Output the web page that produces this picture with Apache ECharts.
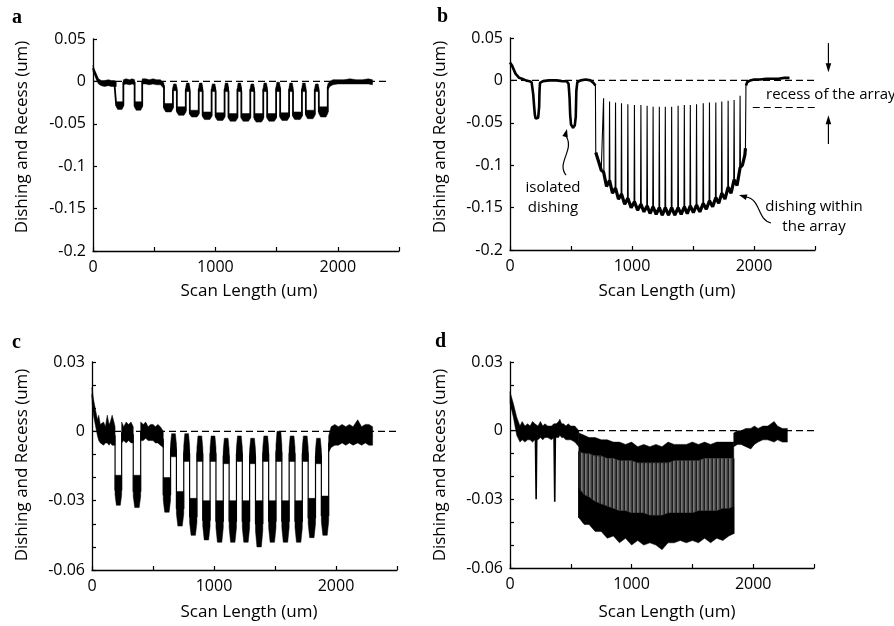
<!DOCTYPE html>
<html><head><meta charset="utf-8">
<script src="https://cdn.jsdelivr.net/npm/echarts@6/dist/echarts.min.js"></script>
<style>html,body{margin:0;padding:0;background:#fff}#c{width:894px;height:626px}</style>
</head><body><div id="c"></div>
<script>
// ---------------- tick labels ----------------
const xLabelVals = [0, 1000, 2000];
const xTickLabels = ['0', '1000', '2000'];
const yLabelValsAB = [0.05, 0, -0.05, -0.1, -0.15, -0.2];
const yTickLabelsAB = ['0.05', '0', '-0.05', '-0.1', '-0.15', '-0.2'];
const yLabelValsCD = [0.03, 0, -0.03, -0.06];
const yTickLabelsCD = ['0.03', '0', '-0.03', '-0.06'];

// ---------------- panel a ----------------
const aLeadX  = [0, 12, 30, 45, 68, 95, 125, 150, 175, 190];
const aLeadHi = [0.019, 0.014, 0.008, 0.003, 0.001, 0.001, 0.002, 0.001, 0.001, 0.000];
const aLeadLo = [0.012, 0.008, 0.001, -0.003, -0.005, -0.006, -0.005, -0.006, -0.006, -0.006];
const aMidX  = [248, 270, 300, 320, 340];
const aMidHi = [0.002, 0.003, 0.002, 0.003, 0.002];
const aMidLo = [-0.004, -0.003, -0.004, -0.003, -0.004];
const aPreX  = [402, 430, 460, 490, 520, 550, 565, 580];
const aPreHi = [0.003, 0.003, 0.002, 0.003, 0.002, 0.002, 0.000, -0.002];
const aPreLo = [-0.003, -0.003, -0.004, -0.003, -0.004, -0.004, -0.006, -0.009];
const aTailX  = [1918, 1935, 1960, 2000, 2050, 2100, 2150, 2200, 2250, 2283];
const aTailHi = [-0.003, 0.000, 0.002, 0.002, 0.002, 0.003, 0.002, 0.002, 0.003, 0.002];
const aTailLo = [-0.010, -0.006, -0.004, -0.003, -0.003, -0.003, -0.003, -0.003, -0.003, -0.004];
const aWellS  = [190, 340, 580, 685, 791, 896, 1002, 1107, 1212, 1318, 1423, 1529, 1634, 1739, 1845];
const aWellE  = [248, 402, 653, 758, 864, 969, 1075, 1180, 1285, 1391, 1496, 1602, 1707, 1812, 1918];
const aWellHi = [-0.024, -0.024, -0.026, -0.030, -0.034, -0.036, -0.037, -0.038, -0.038, -0.038, -0.038, -0.037, -0.036, -0.034, -0.030];
const aWellLo = [-0.033, -0.034, -0.036, -0.040, -0.042, -0.045, -0.046, -0.047, -0.047, -0.048, -0.047, -0.046, -0.045, -0.044, -0.042];
const aDomeHi = [-0.003, -0.002, -0.002, -0.003, -0.002, -0.002, -0.003, -0.002, -0.001, -0.002, -0.002, -0.003];
const aDomeLo = [-0.011, -0.012, -0.012, -0.012, -0.012, -0.012, -0.012, -0.012, -0.012, -0.012, -0.012, -0.012];

// ---------------- panel b ----------------
const bHeadX = [0, 15, 30, 45, 57, 75, 98, 130, 160, 177, 190, 198, 204, 211, 218, 231, 239, 242, 246, 270, 320, 380, 430, 465, 480, 488, 493, 500, 517, 531, 539, 544, 552, 580, 620, 660, 685, 700];
const bHeadY = [0.021, 0.018, 0.013, 0.008, 0.006, 0.003, 0.002, 0.000, -0.001, -0.002, -0.016, -0.031, -0.041, -0.045, -0.046, -0.044, -0.031, -0.012, -0.003, -0.001, 0.000, 0.000, -0.001, -0.001, -0.004, -0.020, -0.040, -0.052, -0.056, -0.053, -0.043, -0.012, -0.002, 0.000, 0.001, 0.000, -0.003, -0.006];
const bPreX = [703, 725, 748];
const bPreY = [-0.085, -0.095, -0.106];
const bSpikeX    = [767, 816, 865, 914, 966, 1020, 1073, 1124, 1173, 1224, 1273, 1325, 1378, 1429, 1478, 1529, 1584, 1635, 1687, 1736, 1788, 1837, 1886];
const bSpikeTop  = [-0.021, -0.025, -0.026, -0.027, -0.028, -0.029, -0.029, -0.030, -0.031, -0.031, -0.031, -0.031, -0.030, -0.029, -0.029, -0.028, -0.027, -0.026, -0.026, -0.025, -0.024, -0.023, -0.018];
const bSpikeBase = [-0.108, -0.118, -0.127, -0.134, -0.139, -0.143, -0.146, -0.148, -0.149, -0.150, -0.150, -0.150, -0.150, -0.149, -0.148, -0.147, -0.145, -0.142, -0.138, -0.133, -0.126, -0.117, -0.103];
const bValleyX = [791, 840, 889, 940, 993, 1046, 1098, 1148, 1198, 1248, 1299, 1351, 1403, 1453, 1503, 1556, 1609, 1661, 1711, 1762, 1812, 1861];
const bValleyY = [-0.125, -0.133, -0.140, -0.146, -0.150, -0.153, -0.155, -0.157, -0.158, -0.159, -0.159, -0.159, -0.158, -0.157, -0.156, -0.155, -0.152, -0.149, -0.145, -0.140, -0.133, -0.124];
const bPostX = [1905, 1925, 1930];
const bPostY = [-0.100, -0.088, -0.080];
const bTailX = [1934, 1945, 1970, 2000, 2050, 2100, 2150, 2200, 2250, 2290];
const bTailY = [-0.006, -0.002, 0.000, 0.001, 0.001, 0.002, 0.002, 0.002, 0.003, 0.003];
const bRecess = -0.032;
const bGuideX = [1990, 2630];
const bArrowX = 2610;
const bArrowTop = [0.044, 0.0095];
const bArrowBot = [-0.075, -0.041];

// ---------------- panel c ----------------
const cLeadX  = [0, 12, 30, 45, 55, 68, 95, 110, 125, 140, 150, 165, 180, 189];
const cLeadHi = [0.019, 0.014, 0.009, 0.005, 0.007, 0.003, 0.004, 0.002, 0.007, 0.003, 0.004, 0.007, 0.004, 0.002];
const cLeadLo = [0.013, 0.007, 0.002, -0.002, -0.004, -0.005, -0.006, -0.005, -0.005, -0.006, -0.005, -0.006, -0.006, -0.006];
const cMidX  = [243, 260, 280, 300, 320, 338];
const cMidHi = [0.004, 0.002, 0.004, 0.003, 0.004, 0.002];
const cMidLo = [-0.005, -0.004, -0.005, -0.004, -0.005, -0.005];
const cPreX  = [399, 420, 440, 460, 480, 500, 520, 540, 560, 584];
const cPreHi = [0.004, 0.003, 0.004, 0.002, 0.003, 0.003, 0.002, 0.003, 0.002, 0.000];
const cPreLo = [-0.004, -0.004, -0.003, -0.004, -0.004, -0.004, -0.005, -0.005, -0.006, -0.007];
const cTailX  = [1940, 1960, 1990, 2020, 2050, 2080, 2110, 2140, 2178, 2210, 2240, 2270, 2300];
const cTailHi = [-0.002, 0.002, 0.003, 0.002, 0.003, 0.002, 0.003, 0.002, 0.005, 0.002, 0.003, 0.003, 0.002];
const cTailLo = [-0.009, -0.007, -0.006, -0.006, -0.005, -0.006, -0.005, -0.006, -0.005, -0.006, -0.005, -0.006, -0.006];
const cWellS  = [189, 338, 584, 692, 800, 908, 1016, 1124, 1232, 1340, 1448, 1556, 1664, 1772, 1880];
const cWellE  = [243, 399, 644, 752, 860, 968, 1076, 1184, 1292, 1400, 1508, 1616, 1724, 1832, 1940];
const cWellHi = [-0.019, -0.019, -0.020, -0.026, -0.029, -0.030, -0.030, -0.030, -0.030, -0.030, -0.030, -0.030, -0.030, -0.029, -0.028];
const cWellLo = [-0.032, -0.033, -0.035, -0.041, -0.045, -0.047, -0.048, -0.048, -0.048, -0.050, -0.048, -0.048, -0.048, -0.046, -0.045];
const cDomeHi = [-0.001, -0.001, -0.002, -0.002, -0.003, -0.002, -0.003, -0.002, 0.000, -0.002, -0.002, -0.003];
const cDomeLo = [-0.011, -0.013, -0.013, -0.013, -0.014, -0.013, -0.014, -0.013, -0.013, -0.013, -0.013, -0.014];

// ---------------- panel d ----------------
const dLeadX  = [0, 27, 55, 82, 100, 123, 145, 165, 185, 205, 230, 250, 270, 287, 310, 342, 360, 380, 400, 410, 425, 440, 460, 478, 500, 533, 566];
const dLeadHi = [0.017, 0.012, 0.006, 0.002, 0.004, 0.002, 0.003, 0.002, 0.004, 0.003, 0.002, 0.004, 0.002, 0.003, 0.002, 0.002, 0.003, 0.003, 0.004, 0.005, 0.003, 0.003, 0.002, 0.003, 0.002, 0.002, 0.000];
const dLeadLo = [0.012, 0.006, -0.002, -0.005, -0.004, -0.005, -0.004, -0.004, -0.005, -0.004, -0.004, -0.003, -0.004, -0.003, -0.003, -0.004, -0.003, -0.003, -0.003, -0.002, -0.003, -0.003, -0.004, -0.004, -0.004, -0.005, -0.007];
const dSpikeX = [215, 368];
const dSpikeY = [-0.030, -0.031];
const dArrX  = [566, 610, 650, 700, 750, 800, 850, 900, 950, 1000, 1050, 1100, 1150, 1200, 1250, 1300, 1350, 1400, 1450, 1500, 1550, 1600, 1650, 1700, 1750, 1800, 1840];
const dTopHi = [-0.001, -0.002, -0.003, -0.003, -0.004, -0.004, -0.005, -0.005, -0.006, -0.005, -0.007, -0.006, -0.007, -0.006, -0.007, -0.005, -0.006, -0.006, -0.006, -0.005, -0.006, -0.005, -0.006, -0.005, -0.005, -0.005, -0.005];
const dTopLo = [-0.009, -0.010, -0.010, -0.011, -0.011, -0.012, -0.012, -0.013, -0.013, -0.013, -0.014, -0.014, -0.014, -0.014, -0.014, -0.014, -0.013, -0.013, -0.013, -0.013, -0.013, -0.012, -0.012, -0.012, -0.012, -0.012, -0.012];
const dBotHi = [-0.025, -0.028, -0.029, -0.031, -0.032, -0.033, -0.034, -0.035, -0.035, -0.036, -0.036, -0.036, -0.037, -0.037, -0.037, -0.036, -0.036, -0.036, -0.036, -0.036, -0.035, -0.035, -0.035, -0.035, -0.034, -0.034, -0.033];
const dBotLo = [-0.038, -0.041, -0.041, -0.044, -0.044, -0.047, -0.046, -0.049, -0.047, -0.050, -0.048, -0.050, -0.049, -0.050, -0.052, -0.049, -0.049, -0.048, -0.049, -0.048, -0.049, -0.047, -0.049, -0.047, -0.048, -0.046, -0.045];
const dTailX  = [1840, 1870, 1900, 1940, 1980, 2010, 2040, 2080, 2120, 2172, 2200, 2240, 2281];
const dTailHi = [-0.001, 0.000, 0.000, 0.001, 0.001, 0.002, 0.001, 0.002, 0.002, 0.004, 0.002, 0.001, 0.001];
const dTailLo = [-0.007, -0.006, -0.006, -0.007, -0.008, -0.006, -0.005, -0.004, -0.004, -0.005, -0.004, -0.005, -0.005];

// ---------------- helpers ----------------
const FONT = "'Open Sans', 'Noto Sans', sans-serif";
const zip = (xs, ys) => xs.map((x, i) => [x, ys[i]]);
function band(xs, hi, lo) { return zip(xs, hi).concat(zip(xs, lo).reverse()); }
function lineS(idx, pts, w, extra) {
  return Object.assign({ type: 'line', xAxisIndex: idx, yAxisIndex: idx, data: pts, showSymbol: false, symbol: 'none',
    lineStyle: { color: '#000', width: w }, silent: true, animation: false, z: 3 }, extra || {});
}
function bandS(idx, polys, fill, z) {
  return { type: 'custom', xAxisIndex: idx, yAxisIndex: idx, data: polys.map(p => p[0]), silent: true, animation: false, z: z || 4,
    renderItem: (params, api) => ({ type: 'polygon', shape: { points: polys[params.dataIndex].map(pt => api.coord(pt)) },
      style: { fill: fill, stroke: typeof fill === 'string' ? fill : null, lineWidth: 0.5 } }) };
}
function wellSeries(idx, plats, wS, wE, wHi, wLo, dHi, dLo, wallW) {
  const polys = [], trace = [];
  for (let i = 0; i <= wS.length; i++) {
    let pl;
    if (i < 3) pl = plats[i];
    else if (i === wS.length) pl = plats[3];
    else {
      const k = i - 3, e0 = wE[i - 1], s1 = wS[i], q = (s1 - e0) * 0.18, sh = dLo[k] + (dHi[k] - dLo[k]) * 0.55;
      pl = { x: [e0, e0, e0 + q, s1 - q, s1, s1], hi: [dLo[k], sh, dHi[k], dHi[k], sh, dLo[k]], lo: [dLo[k], dLo[k], dLo[k], dLo[k], dLo[k], dLo[k]] };
    }
    polys.push(band(pl.x, pl.hi, pl.lo));
    pl.x.forEach((x, j) => trace.push([x, (pl.hi[j] + pl.lo[j]) / 2]));
    if (i < wS.length) {
      const s = wS[i], e = wE[i], q = (e - s) * 0.2, m = (wHi[i] + wLo[i]) / 2, sh = wLo[i] + (wHi[i] - wLo[i]) * 0.35;
      polys.push([[s, wHi[i]], [e, wHi[i]], [e, sh], [e - q, wLo[i]], [s + q, wLo[i]], [s, sh]]);
      trace.push([s, m], [e, m]);
    }
  }
  return [lineS(idx, trace, wallW), bandS(idx, polys, '#000', 4)];
}
function findLabel(vals, labels, v) {
  for (let i = 0; i < vals.length; i++) if (Math.abs(vals[i] - v) < 1e-9) return labels[i];
  return '';
}
const axisLine = { show: true, onZero: false, lineStyle: { color: '#000', width: 1.3 } };
const axisTick = { show: true, inside: true, length: 4, lineStyle: { color: '#000', width: 1.2 } };
function xAx(idx) {
  return { gridIndex: idx, type: 'value', min: 0, max: 2500, interval: 500, axisLine, axisTick, splitLine: { show: false },
    axisLabel: { margin: 8, color: '#000', fontFamily: FONT, fontSize: 16, formatter: v => findLabel(xLabelVals, xTickLabels, v) } };
}
function yAx(idx, top) {
  const ab = top === 'ab';
  return { gridIndex: idx, type: 'value', min: ab ? -0.2 : -0.06, max: ab ? 0.05 : 0.03, interval: ab ? 0.05 : 0.01,
    axisLine, axisTick, splitLine: { show: false },
    axisLabel: { margin: 7, color: '#000', fontFamily: FONT, fontSize: 16,
      formatter: v => ab ? findLabel(yLabelValsAB, yTickLabelsAB, v) : findLabel(yLabelValsCD, yTickLabelsCD, v) } };
}
const dash = (idx, pts, extra) => lineS(idx, pts, 1.1, Object.assign({ lineStyle: { color: '#000', width: 1.1, type: [7, 4] }, z: 2 }, extra || {}));

// striped fill for the dense array of panel d
const stripe = document.createElement('canvas');
stripe.width = 4; stripe.height = 4;
(function () {
  const g = stripe.getContext('2d');
  g.fillStyle = '#5e5e5e'; g.fillRect(0, 0, 4, 4);
  g.fillStyle = '#1e1e1e'; g.fillRect(0, 0, 1, 4);
  g.fillStyle = '#777777'; g.fillRect(1, 0, 1, 4);
  g.fillStyle = '#3c3c3c'; g.fillRect(3, 0, 1, 4);
})();
const stripeFill = { image: stripe, repeat: 'repeat' };

// ---------------- series ----------------
const series = [];
// a
series.push(dash(0, [[0, 0], [2400, 0]]));
series.push(...wellSeries(0, [{ x: aLeadX, hi: aLeadHi, lo: aLeadLo }, { x: aMidX, hi: aMidHi, lo: aMidLo }, { x: aPreX, hi: aPreHi, lo: aPreLo }, { x: aTailX, hi: aTailHi, lo: aTailLo }],
  aWellS, aWellE, aWellHi, aWellLo, aDomeHi, aDomeLo, 1.8));
// b
series.push(dash(1, [[0, 0], [bGuideX[1], 0]], { clip: false }));
series.push(dash(1, [[bGuideX[0], bRecess], [bGuideX[1], bRecess]], { clip: false }));
const bBottom = zip(bPreX, bPreY);
const bThin = zip(bHeadX, bHeadY).concat(zip(bPreX, bPreY));
bSpikeX.forEach((x, k) => {
  bBottom.push([x, bSpikeBase[k]]);
  bThin.push([x - 3, bSpikeBase[k]], [x, bSpikeTop[k]], [x + 3, bSpikeBase[k]]);
  if (k < bValleyX.length) { bBottom.push([bValleyX[k], bValleyY[k]]); bThin.push([bValleyX[k], bValleyY[k]]); }
});
bBottom.push(...zip(bPostX, bPostY));
bThin.push(...zip(bPostX, bPostY), ...zip(bTailX, bTailY));
series.push(lineS(1, bThin, 1.1));
series.push(lineS(1, zip(bHeadX, bHeadY), 2.6));
series.push(lineS(1, bBottom, 3.2));
series.push(lineS(1, zip(bTailX, bTailY), 2.6));
// c
series.push(dash(2, [[0, 0], [2500, 0]]));
series.push(...wellSeries(2, [{ x: cLeadX, hi: cLeadHi, lo: cLeadLo }, { x: cMidX, hi: cMidHi, lo: cMidLo }, { x: cPreX, hi: cPreHi, lo: cPreLo }, { x: cTailX, hi: cTailHi, lo: cTailLo }],
  cWellS, cWellE, cWellHi, cWellLo, cDomeHi, cDomeLo, 1.2));
// d
series.push(dash(3, [[0, 0], [2500, 0]]));
series.push(bandS(3, [band(dLeadX, dLeadHi, dLeadLo), band(dTailX, dTailHi, dTailLo)], '#000', 4));
series.push(bandS(3, [band(dArrX, dTopLo, dBotHi)], stripeFill, 3));
series.push(bandS(3, [band(dArrX, dTopHi, dTopLo), band(dArrX, dBotHi, dBotLo)], '#000', 4));
dSpikeX.forEach((x, k) => series.push(lineS(3, [[x - 6, -0.002], [x, dSpikeY[k]], [x + 5, -0.002]], 1.6)));
series.push(lineS(3, [[dArrX[0], dTopLo[0]], [dArrX[0], dBotLo[0]]], 1.4));
series.push(lineS(3, [[dArrX[dArrX.length - 1], dTopLo[dTopLo.length - 1]], [dArrX[dArrX.length - 1], dBotLo[dBotLo.length - 1]]], 1.4));

// ---------------- static graphics ----------------
const TITLE = '17px ' + FONT;
const ANN = '15px ' + FONT;
const PANEL = 'bold 20px "Liberation Serif", "DejaVu Serif", serif';
function txt(x, y, s, font, align, rot) {
  return { type: 'text', x, y, rotation: rot || 0, silent: true,
    style: { text: s, font, fill: '#000', align: align || 'center', verticalAlign: 'middle', textAlign: align || 'center', textVerticalAlign: 'middle' } };
}
function head(tip, dx, dy, len, hw) {
  const n = Math.hypot(dx, dy); dx /= n; dy /= n;
  const bx = tip[0] - dx * len, by = tip[1] - dy * len;
  return { type: 'polygon', silent: true, shape: { points: [tip, [bx - dy * hw, by + dx * hw], [bx + dy * hw, by - dx * hw]] }, style: { fill: '#000' } };
}
const graphics = [
  txt(12, 18, 'a', PANEL, 'left'), txt(437, 17, 'b', PANEL, 'left'),
  txt(12, 343, 'c', PANEL, 'left'), txt(435, 342, 'd', PANEL, 'left'),
  txt(22, 137, 'Dishing and Recess (um)', TITLE, 'center', Math.PI / 2),
  txt(440, 137, 'Dishing and Recess (um)', TITLE, 'center', Math.PI / 2),
  txt(22, 465, 'Dishing and Recess (um)', TITLE, 'center', Math.PI / 2),
  txt(440, 465, 'Dishing and Recess (um)', TITLE, 'center', Math.PI / 2),
  txt(249, 291, 'Scan Length (um)', TITLE), txt(667, 291, 'Scan Length (um)', TITLE),
  txt(249, 612, 'Scan Length (um)', TITLE), txt(667, 612, 'Scan Length (um)', TITLE),
  txt(553, 188, 'isolated', ANN), txt(553, 208, 'dishing', ANN),
  txt(814, 207, 'dishing within', ANN), txt(814, 227, 'the array', ANN),
  txt(766, 95, 'recess of the array', ANN, 'left'),
  { type: 'bezierCurve', silent: true, shape: { x1: 566, y1: 175, cpx1: 556, cpy1: 163, cpx2: 575, cpy2: 150, x2: 566, y2: 136 }, style: { stroke: '#000', lineWidth: 1.2, fill: null } },
  head([567, 129], 0.25, -1, 8, 2.8),
  { type: 'bezierCurve', silent: true, shape: { x1: 771, y1: 223, cpx1: 757, cpy1: 220, cpx2: 761, cpy2: 199, x2: 746, y2: 197 }, style: { stroke: '#000', lineWidth: 1.2, fill: null } },
  head([739, 195], -1, -0.3, 8, 2.8)
];

const option = {
  backgroundColor: '#fff',
  animation: false,
  grid: [
    { left: 93, top: 39, width: 306, height: 212, containLabel: false, outerBoundsMode: 'none' },
    { left: 510, top: 38, width: 305, height: 212, containLabel: false, outerBoundsMode: 'none' },
    { left: 92, top: 362, width: 305, height: 208, containLabel: false, outerBoundsMode: 'none' },
    { left: 510, top: 362, width: 304, height: 206, containLabel: false, outerBoundsMode: 'none' }
  ],
  xAxis: [xAx(0), xAx(1), xAx(2), xAx(3)],
  yAxis: [yAx(0, 'ab'), yAx(1, 'ab'), yAx(2, 'cd'), yAx(3, 'cd')],
  series,
  graphic: graphics
};

const chart = echarts.init(document.getElementById('c'), null, { renderer: 'canvas' });
chart.setOption(option);
// data-anchored annotation arrows of panel b
const P = (x, y) => chart.convertToPixel({ gridIndex: 1 }, [x, y]);
const a0 = P(bArrowX, bArrowTop[0]), a1 = P(bArrowX, bArrowTop[1]);
const c0 = P(bArrowX, bArrowBot[0]), c1 = P(bArrowX, bArrowBot[1]);
chart.setOption({ graphic: graphics.concat([
  { type: 'line', silent: true, shape: { x1: a0[0], y1: a0[1], x2: a1[0], y2: a1[1] - 6 }, style: { stroke: '#000', lineWidth: 1.2 } },
  head(a1, 0, 1, 9, 2.8),
  { type: 'line', silent: true, shape: { x1: c0[0], y1: c0[1], x2: c1[0], y2: c1[1] + 6 }, style: { stroke: '#000', lineWidth: 1.2 } },
  head(c1, 0, -1, 9, 2.8)
]) });
</script></body></html>
